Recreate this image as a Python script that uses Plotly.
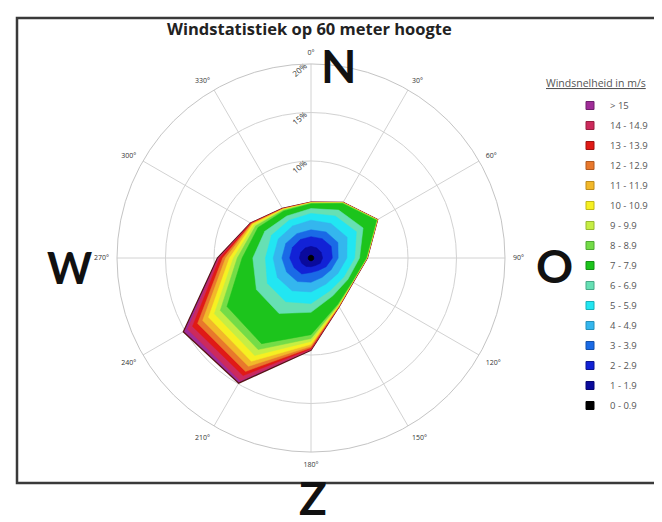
import numpy as np
import plotly.graph_objects as go

# ---------------- data ----------------
directions = [0, 30, 60, 90, 120, 150, 180, 210, 240, 270, 300, 330]
direction_labels = ["0°", "30°", "60°", "90°", "120°", "150°", "180°", "210°", "240°", "270°", "300°", "330°"]

classes = ["0 - 0.9", "1 - 1.9", "2 - 2.9", "3 - 3.9", "4 - 4.9", "5 - 5.9", "6 - 6.9", "7 - 7.9",
           "8 - 8.9", "9 - 9.9", "10 - 10.9", "11 - 11.9", "12 - 12.9", "13 - 13.9", "14 - 14.9", "> 15"]

# frequency (%) per direction for each speed class
s_0_09   = [0.3, 0.3, 0.3, 0.3, 0.3, 0.3, 0.3, 0.3, 0.3, 0.3, 0.3, 0.3]
s_1_19   = [0.9, 0.9, 0.9, 0.9, 0.8, 0.6, 0.6, 0.7, 0.8, 0.9, 0.9, 0.9]
s_2_29   = [1.0, 1.1, 1.2, 1.0, 0.7, 0.6, 0.6, 0.9, 0.9, 1.0, 1.0, 1.0]
s_3_39   = [0.7, 0.8, 0.8, 0.6, 0.6, 0.8, 1.0, 0.9, 0.9, 0.8, 0.8, 0.7]
s_4_49   = [1.0, 1.0, 1.1, 0.9, 0.8, 0.8, 1.0, 1.1, 1.1, 0.9, 0.9, 0.9]
s_5_59   = [0.7, 0.9, 1.1, 0.8, 0.7, 0.8, 1.2, 1.3, 1.2, 0.8, 0.8, 0.7]
s_6_69   = [0.5, 0.7, 0.8, 0.5, 0.5, 0.6, 0.9, 1.4, 1.3, 1.3, 0.8, 0.5]
s_7_79   = [0.5, 0.8, 1.6, 0.7, 0.5, 1.0, 2.3, 3.6, 3.5, 1.1, 0.8, 0.6]
s_8_89   = [0.05, 0.04, 0.04, 0.03, 0.03, 0.10, 0.40, 0.7, 0.8, 0.5, 0.30, 0.10]
s_9_99   = [0.03, 0.02, 0.02, 0.02, 0.02, 0.06, 0.30, 0.7, 0.7, 0.4, 0.20, 0.05]
s_10_109 = [0.02, 0.02, 0.02, 0.01, 0.01, 0.05, 0.30, 0.7, 0.7, 0.4, 0.15, 0.05]
s_11_119 = [0.02, 0.01, 0.01, 0.01, 0.01, 0.03, 0.20, 0.6, 0.7, 0.4, 0.10, 0.03]
s_12_129 = [0.01, 0.01, 0.01, 0.01, 0.01, 0.02, 0.15, 0.6, 0.6, 0.3, 0.05, 0.02]
s_13_139 = [0.01, 0.01, 0.01, 0.01, 0.01, 0.02, 0.10, 0.5, 0.6, 0.3, 0.05, 0.02]
s_14_149 = [0.01, 0.01, 0.01, 0.01, 0.01, 0.01, 0.10, 0.6, 0.6, 0.15, 0.03, 0.01]
s_gt15   = [0.01, 0.01, 0.01, 0.01, 0.01, 0.01, 0.05, 0.3, 0.5, 0.10, 0.02, 0.02]

series = [s_0_09, s_1_19, s_2_29, s_3_39, s_4_49, s_5_59, s_6_69, s_7_79,
          s_8_89, s_9_99, s_10_109, s_11_119, s_12_129, s_13_139, s_14_149, s_gt15]

colors = ["#000000", "#0a0a9c", "#1222d6", "#1a6ae6", "#34b6ee", "#22e6f2", "#66e0b4", "#1cc41c",
          "#74dc48", "#c6ee44", "#f6f022", "#f2b82a", "#e8782c", "#e01a16", "#cc2a5c", "#a02c98"]
edge_colors = ["#000000", "#060670", "#0c1690", "#1450a8", "#2690b8", "#18b0b8", "#48a888", "#149014",
               "#50a834", "#98b832", "#c0b818", "#bc8c1e", "#b05a20", "#a01210", "#98203f", "#70206c"]

tick_r = [5, 10, 15, 20]
tick_r_text = ["5%", "10%", "15%", "20%"]

# ---------------- figure ----------------
OFF = 8                     # page body margin
W, H = 662 - OFF, 522 - OFF


def px(x):
    return (x - OFF) / W


def py(y):
    return 1 - (y - OFF) / H


cum = np.cumsum(np.array(series), axis=0)

fig = go.Figure()

theta_closed = directions + [directions[0]]
for i in range(len(classes) - 1, -1, -1):
    r = list(cum[i]) + [cum[i][0]]
    fig.add_trace(go.Scatterpolar(
        r=r, theta=theta_closed, mode="lines", fill="toself",
        fillcolor=colors[i],
        line=dict(color="#5a1414" if i == len(classes) - 1 else colors[i],
                  width=1.3 if i == len(classes) - 1 else 0.5),
        showlegend=False, hoverinfo="skip"))

for i in range(len(classes) - 1, -1, -1):
    fig.add_trace(go.Scatterpolar(
        r=[None], theta=[None], mode="markers", name=classes[i],
        legendgroup=classes[i],
        marker=dict(symbol="square", size=8, color=colors[i],
                    line=dict(color=edge_colors[i], width=1))))

cx, cy, R = 311, 258, 194
big = dict(size=46, color="#111111", weight="bold",
           family="Liberation Sans Narrow, Lato, sans-serif")
big_w = dict(big, size=43)


def ann(text, x, y, font, xanchor="center"):
    return dict(text=text, x=px(x), y=py(y), xref="paper", yref="paper", showarrow=False,
                xanchor=xanchor, yanchor="middle", font=font)


fig.update_layout(
    width=W, height=H, autosize=False,
    margin=dict(l=0, r=0, t=0, b=0),
    paper_bgcolor="white", plot_bgcolor="white",
    font=dict(family="Open Sans, sans-serif"),
    polar=dict(
        domain=dict(x=[px(cx - R), px(cx + R)], y=[py(cy + R), py(cy - R)]),
        bgcolor="rgba(0,0,0,0)",
        gridshape="linear",
        angularaxis=dict(rotation=90, direction="clockwise",
                         tickmode="array", tickvals=directions, ticktext=direction_labels,
                         tickfont=dict(size=7, color="#333333"),
                         ticks="outside", ticklen=6, tickcolor="rgba(0,0,0,0)",
                         showline=True, linecolor="#c4c4c4", linewidth=1,
                         gridcolor="#d2d2d2", gridwidth=1),
        radialaxis=dict(range=[0, 20], tickmode="array", tickvals=tick_r, ticktext=tick_r_text,
                        angle=90, tickangle=50, side="counterclockwise",
                        tickfont=dict(size=8, color="#333333"),
                        showline=False, ticks="",
                        gridcolor="#d2d2d2", gridwidth=1, layer="below traces"),
    ),
    legend=dict(x=px(570), xanchor="left", y=py(91), yanchor="top",
                font=dict(size=9.5, color="#555555", family="Open Sans, sans-serif"),
                bgcolor="rgba(0,0,0,0)", tracegroupgap=1, itemwidth=30),
    shapes=[dict(type="rect", xref="paper", yref="paper",
                 x0=px(17), x1=1.02, y0=py(483), y1=py(18),
                 line=dict(color="#3a3a3a", width=2.5), fillcolor="rgba(0,0,0,0)")],
    annotations=[
        ann("Windstatistiek op 60 meter hoogte", 309, 29,
            dict(size=16.5, color="#222222", family="Open Sans, sans-serif", weight="bold")),
        ann('<span style="text-decoration:underline">Windsnelheid in m/s</span>', 544, 83,
            dict(size=10.5, color="#555555"), xanchor="left"),
        ann("N", 338, 65, big),
        ann("W", 69, 267, big_w),
        ann("O", 554, 265, big),
        ann("Z", 313, 497, big),
    ],
)

fig.write_html("out.html")
